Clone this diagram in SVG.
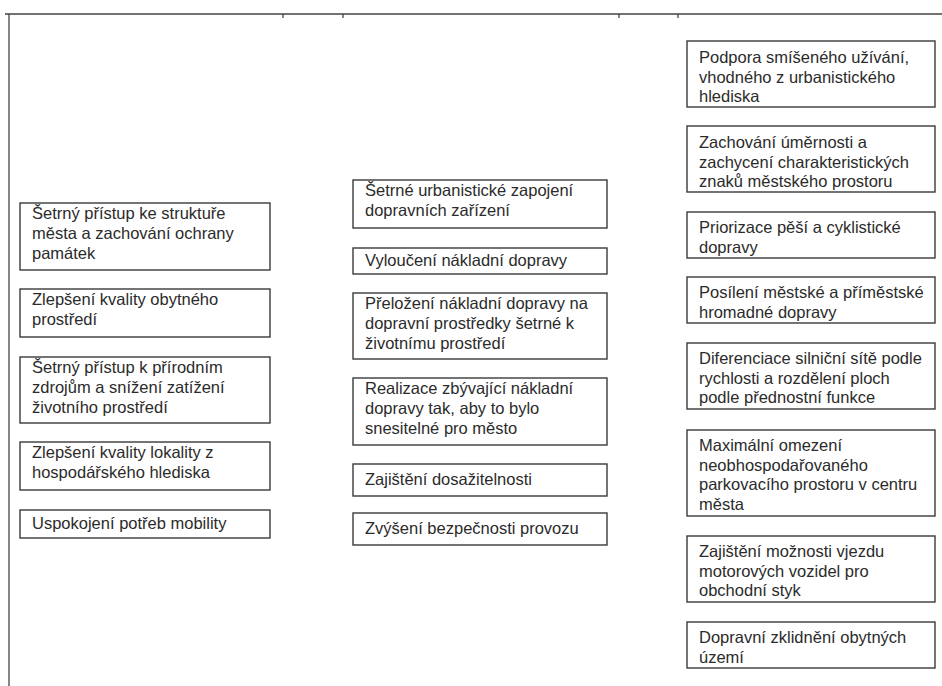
<svg xmlns="http://www.w3.org/2000/svg" width="942" height="686" viewBox="0 0 942 686">
<style>
.frame{stroke:#444;stroke-width:1.3;fill:none}
.box{fill:#fff;stroke:#3a3a3a;stroke-width:1.4}
.t{font-family:"Liberation Sans",Arial,sans-serif;font-size:16.5px;fill:#2b2b2b}
</style>
<rect width="942" height="686" fill="#fff"/>
<g id="frame">
<path class="frame" d="M5 14H942M9 14V686M283 14v4M343 14v4M619 14v4M678 14v4"/>
</g>
<g id="connectors"></g>
<g id="l1"><rect class="box" x="20" y="203" width="250" height="67"/><text class="t" x="32" y="219"><tspan x="32">Šetrný přístup ke struktuře</tspan><tspan x="32" dy="20">města a zachování ochrany</tspan><tspan x="32" dy="20">památek</tspan></text></g>
<g id="l2"><rect class="box" x="20" y="289" width="250" height="48"/><text class="t" x="32" y="305"><tspan x="32">Zlepšení kvality obytného</tspan><tspan x="32" dy="20">prostředí</tspan></text></g>
<g id="l3"><rect class="box" x="20" y="357" width="250" height="66"/><text class="t" x="32" y="373"><tspan x="32">Šetrný přístup k přírodním</tspan><tspan x="32" dy="20">zdrojům a snížení zatížení</tspan><tspan x="32" dy="20">životního prostředí</tspan></text></g>
<g id="l4"><rect class="box" x="20" y="442" width="250" height="48"/><text class="t" x="32" y="458"><tspan x="32">Zlepšení kvality lokality z</tspan><tspan x="32" dy="20">hospodářského hlediska</tspan></text></g>
<g id="l5"><rect class="box" x="20" y="510" width="250" height="28"/><text class="t" x="32" y="529">Uspokojení potřeb mobility</text></g>

<g id="m1"><rect class="box" x="353" y="180" width="254" height="48"/><text class="t" x="365" y="196"><tspan x="365">Šetrné urbanistické zapojení</tspan><tspan x="365" dy="20">dopravních zařízení</tspan></text></g>
<g id="m2"><rect class="box" x="353" y="248" width="254" height="26"/><text class="t" x="365" y="266">Vyloučení nákladní dopravy</text></g>
<g id="m3"><rect class="box" x="353" y="293" width="254" height="66"/><text class="t" x="365" y="309"><tspan x="365">Přeložení nákladní dopravy na</tspan><tspan x="365" dy="20">dopravní prostředky šetrné k</tspan><tspan x="365" dy="20">životnímu prostředí</tspan></text></g>
<g id="m4"><rect class="box" x="353" y="378" width="254" height="67"/><text class="t" x="365" y="394"><tspan x="365">Realizace zbývající nákladní</tspan><tspan x="365" dy="20">dopravy tak, aby to bylo</tspan><tspan x="365" dy="20">snesitelné pro město</tspan></text></g>
<g id="m5"><rect class="box" x="353" y="464" width="254" height="32"/><text class="t" x="365" y="485">Zajištění dosažitelnosti</text></g>
<g id="m6"><rect class="box" x="353" y="513" width="254" height="32"/><text class="t" x="365" y="534">Zvýšení bezpečnosti provozu</text></g>

<g id="r1"><rect class="box" x="687" y="41" width="248" height="66"/><text class="t" x="699" y="63"><tspan x="699">Podpora smíšeného užívání,</tspan><tspan x="699" dy="19.5">vhodného z urbanistického</tspan><tspan x="699" dy="19.5">hlediska</tspan></text></g>
<g id="r2"><rect class="box" x="687" y="126" width="248" height="66"/><text class="t" x="699" y="148"><tspan x="699">Zachování úměrnosti a</tspan><tspan x="699" dy="19.5">zachycení charakteristických</tspan><tspan x="699" dy="19.5">znaků městského prostoru</tspan></text></g>
<g id="r3"><rect class="box" x="687" y="212" width="248" height="46"/><text class="t" x="699" y="233"><tspan x="699">Priorizace pěší a cyklistické</tspan><tspan x="699" dy="19.5">dopravy</tspan></text></g>
<g id="r4"><rect class="box" x="687" y="277" width="248" height="46"/><text class="t" x="699" y="298"><tspan x="699">Posílení městské a příměstské</tspan><tspan x="699" dy="19.5">hromadné dopravy</tspan></text></g>
<g id="r5"><rect class="box" x="687" y="343" width="248" height="66"/><text class="t" x="699" y="364"><tspan x="699">Diferenciace silniční sítě podle</tspan><tspan x="699" dy="19.5">rychlosti a rozdělení ploch</tspan><tspan x="699" dy="19.5">podle přednostní funkce</tspan></text></g>
<g id="r6"><rect class="box" x="687" y="430" width="248" height="86"/><text class="t" x="699" y="451"><tspan x="699">Maximální omezení</tspan><tspan x="699" dy="19.5">neobhospodařovaného</tspan><tspan x="699" dy="19.5">parkovacího prostoru v centru</tspan><tspan x="699" dy="19.5">města</tspan></text></g>
<g id="r7"><rect class="box" x="687" y="536" width="248" height="66"/><text class="t" x="699" y="557"><tspan x="699">Zajištění možnosti vjezdu</tspan><tspan x="699" dy="19.5">motorových vozidel pro</tspan><tspan x="699" dy="19.5">obchodní styk</tspan></text></g>
<g id="r8"><rect class="box" x="687" y="622" width="248" height="46"/><text class="t" x="699" y="643"><tspan x="699">Dopravní zklidnění obytných</tspan><tspan x="699" dy="19.5">území</tspan></text></g>
</svg>
